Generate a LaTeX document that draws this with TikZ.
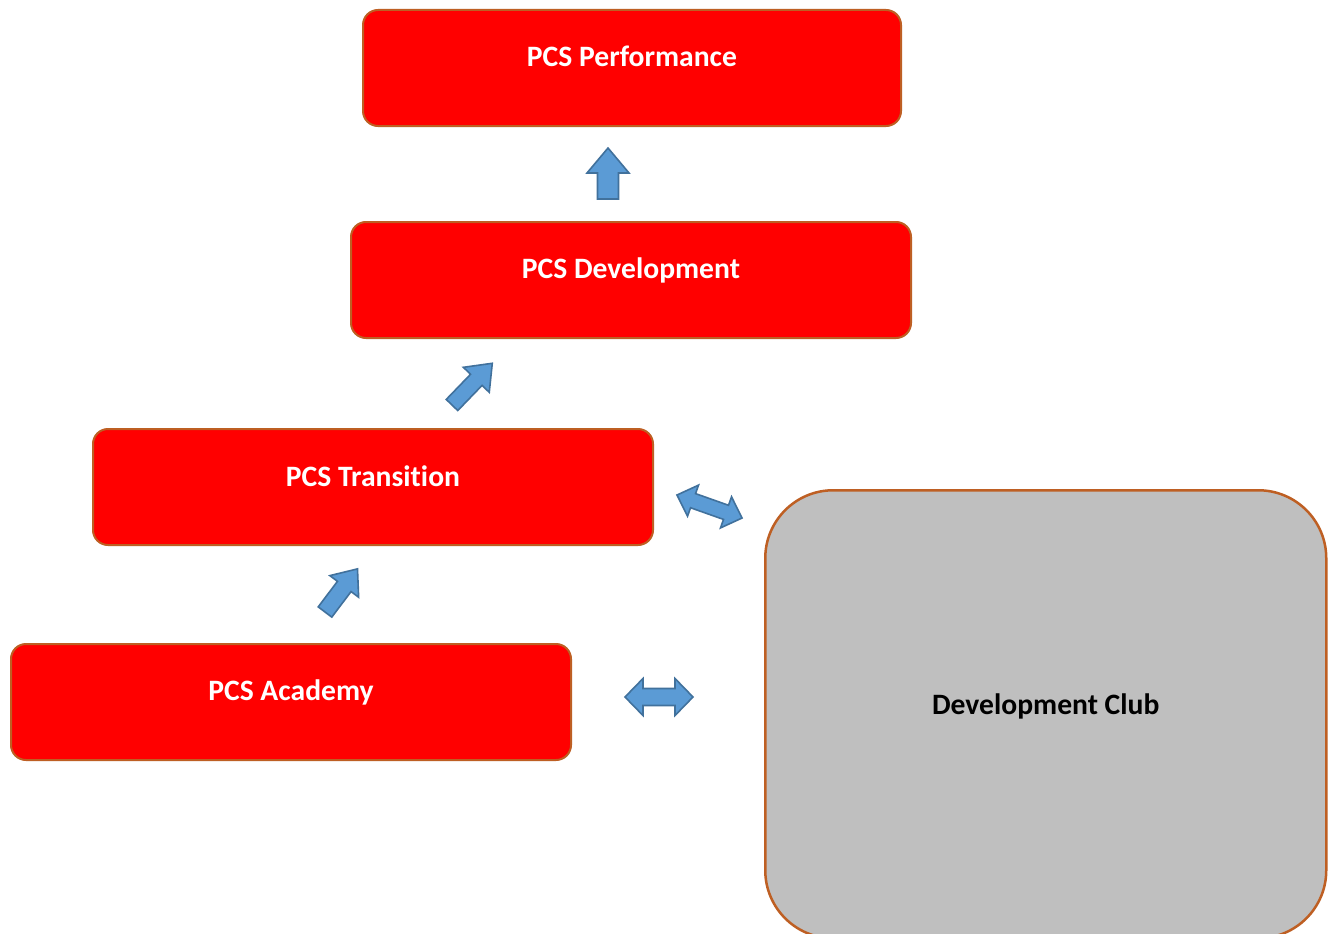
\documentclass[tikz,border=0pt]{standalone}
\usepackage{fontspec}
\setmainfont{Carlito}[Ligatures=NoCommon]
\definecolor{boxred}{RGB}{255,0,0}
\definecolor{boxedge}{RGB}{190,95,35}
\definecolor{clubgray}{RGB}{191,191,191}
\definecolor{arrfill}{RGB}{91,155,213}
\definecolor{arredge}{RGB}{65,113,156}
\tikzset{
  redbox/.style={draw=boxedge, fill=boxred, line width=2pt, rounded corners=15pt,
    minimum width=560pt, minimum height=116pt, inner sep=0pt, anchor=north west},
  clubbox/.style={draw=boxedge, fill=clubgray, line width=2.5pt, rounded corners=68pt,
    minimum width=561pt, minimum height=448pt, inner sep=0pt, anchor=north west},
  boxtext/.style={text=white, font=\fontsize{29.6}{35}\selectfont\bfseries, inner sep=0pt},
  clubtext/.style={text=black, font=\fontsize{29.6}{35}\selectfont\bfseries, inner sep=0pt},
  blockarr/.style={draw=arredge, fill=arrfill, line width=1.6pt, line join=miter}
}
% single block arrow: tail centre (x,y), angle, length, width, shaft, head length
\newcommand{\sglarrow}[7]{%
  \begin{scope}[shift={(#1,#2)},rotate=#3]
    \draw[blockarr] (0,-#6/2) -- (#4-#7,-#6/2) -- (#4-#7,-#5/2) -- (#4,0)
      -- (#4-#7,#5/2) -- (#4-#7,#6/2) -- (0,#6/2) -- cycle;
  \end{scope}}
% double block arrow: first tip (x,y), angle, length, width, shaft, head length
\newcommand{\dblarrow}[7]{%
  \begin{scope}[shift={(#1,#2)},rotate=#3]
    \draw[blockarr] (0,0) -- (#7,-#5/2) -- (#7,-#6/2) -- (#4-#7,-#6/2) -- (#4-#7,-#5/2)
      -- (#4,0) -- (#4-#7,#5/2) -- (#4-#7,#6/2) -- (#7,#6/2) -- (#7,#5/2) -- cycle;
  \end{scope}}
\begin{document}
\begin{tikzpicture}[x=1pt,y=-1pt]
\useasboundingbox (0,0) rectangle (1333,934);
\fill[white] (0,0) rectangle (1333,934);

\node[redbox, minimum width=538pt] (perf) at (362,9) {};
\node[redbox] (dev) at (350,221) {};
\node[redbox] (trans) at (92,428) {};
\node[redbox] (acad) at (10,643) {};
\node[clubbox] (club) at (764,489) {};

\node[boxtext] (perft) at ([yshift=-47pt]perf.north) {PCS Performance};
\node[boxtext] (devt) at ([yshift=-49pt]dev.north) {PCS Development};
\node[boxtext] (transt) at ([yshift=-48pt]trans.north) {PCS Transition};
\node[boxtext] (acadt) at ([yshift=-49pt]acad.north) {PCS Academy};
\node[clubtext] (clubt) at ([yshift=-217pt]club.north) {Development Club};

\sglarrow{608}{199}{90}{51}{42}{21}{25}
\sglarrow{452}{405}{46}{58}{36}{16}{23}
\sglarrow{325}{612}{53}{54}{36}{17}{22}
\dblarrow{677}{495}{-19.5}{69}{33}{15}{17}
\dblarrow{625}{697}{0}{68}{37}{17}{18}
\end{tikzpicture}
\end{document}
